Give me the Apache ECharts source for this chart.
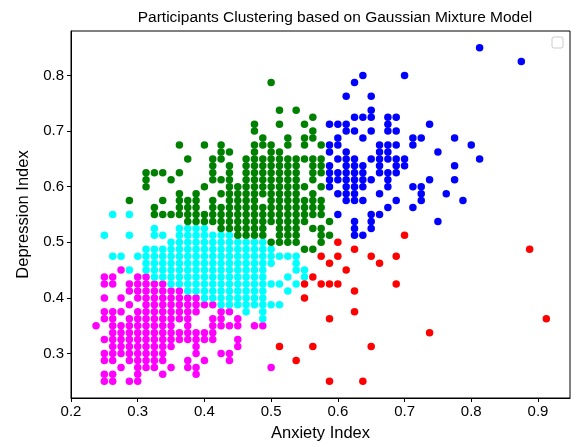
<!DOCTYPE html>
<html><head><meta charset="utf-8">
<script src="https://cdn.jsdelivr.net/npm/echarts@6/dist/echarts.min.js"></script>
<style>html,body{margin:0;padding:0;background:#fff}#c{width:577px;height:447px}</style>
</head><body><div id="c"></div>
<script>
const titleText = "Participants Clustering based on Gaussian Mixture Model";
const xName = "Anxiety Index";
const yName = "Depression Index";
const xTicks = [0.2,0.3,0.4,0.5,0.6,0.7,0.8,0.9];
const yTicks = [0.3,0.4,0.5,0.6,0.7,0.8];

// rows: [depression, [anxiety values...]]
const magentaRows = [
[0.45,[0.275]],
[0.4375,[0.25,0.2625,0.3,0.3125]],
[0.425,[0.25,0.2625,0.2875,0.3,0.3125,0.325,0.3375]],
[0.4125,[0.2875,0.3,0.3125,0.325,0.3375,0.35,0.3625]],
[0.4,[0.25,0.275,0.3,0.3125,0.325,0.3375,0.35,0.3625,0.375,0.3875]],
[0.3875,[0.2875,0.3125,0.325,0.3375,0.35,0.3625,0.375,0.3875,0.4,0.4125]],
[0.375,[0.25,0.2625,0.275,0.3,0.3125,0.325,0.3375,0.35,0.3625,0.375,0.3875,0.425,0.4375]],
[0.3625,[0.25,0.2625,0.2875,0.3,0.3125,0.325,0.3375,0.35,0.3625,0.375,0.4125,0.425,0.45]],
[0.35,[0.2375,0.2625,0.275,0.2875,0.3,0.3125,0.325,0.3375,0.35,0.375,0.4125,0.425,0.4375,0.45,0.475,0.4875]],
[0.3375,[0.2625,0.275,0.2875,0.3,0.3125,0.325,0.3375,0.35,0.3625,0.375,0.3875,0.4,0.4125]],
[0.325,[0.25,0.2625,0.275,0.2875,0.3,0.3125,0.325,0.3375,0.35,0.3625,0.375,0.3875,0.4,0.4125,0.45]],
[0.3125,[0.2625,0.275,0.2875,0.3,0.3125,0.325,0.3375,0.35,0.3875,0.45]],
[0.3,[0.25,0.2625,0.275,0.2875,0.3,0.3125,0.325,0.3375,0.3875,0.425,0.4375]],
[0.2875,[0.25,0.2625,0.2875,0.3,0.3125,0.325,0.3375,0.375,0.4,0.4375]],
[0.275,[0.275,0.3,0.3125,0.325,0.35,0.375,0.3875,0.5]],
[0.2625,[0.25,0.2625,0.3,0.3375,0.3875]],
[0.25,[0.25,0.2625,0.2875,0.3]]
];

const cyanRows = [
[0.55,[0.2625,0.2875]],
[0.525,[0.325,0.3625,0.375,0.3875,0.4]],
[0.5125,[0.25,0.2875,0.325,0.3375,0.3625,0.375,0.3875,0.4,0.4125,0.425,0.4375]],
[0.5,[0.35,0.3625,0.375,0.3875,0.4,0.4125,0.425,0.4375,0.45,0.4625,0.475,0.4875]],
[0.4875,[0.3125,0.325,0.3375,0.35,0.3625,0.375,0.3875,0.4,0.4125,0.425,0.4375,0.45,0.4625,0.475,0.4875,0.5]],
[0.475,[0.2625,0.275,0.3,0.3125,0.325,0.3375,0.35,0.3625,0.375,0.3875,0.4,0.4125,0.425,0.4375,0.45,0.4625,0.475,0.4875,0.5,0.5125,0.525,0.5375]],
[0.4625,[0.3125,0.325,0.3375,0.35,0.3625,0.375,0.3875,0.4,0.4125,0.425,0.4375,0.45,0.4625,0.475,0.4875,0.5,0.5375]],
[0.45,[0.2875,0.3125,0.325,0.3375,0.35,0.3625,0.375,0.3875,0.4,0.4125,0.425,0.4375,0.45,0.4625,0.475,0.4875,0.5375,0.55]],
[0.4375,[0.325,0.3375,0.35,0.3625,0.375,0.3875,0.4,0.4125,0.425,0.4375,0.45,0.4625,0.475,0.4875,0.525,0.55]],
[0.425,[0.35,0.3625,0.375,0.3875,0.4,0.4125,0.425,0.4375,0.45,0.4625,0.475,0.4875,0.5,0.5125,0.5375]],
[0.4125,[0.375,0.3875,0.4,0.4125,0.425,0.4375,0.45,0.4625,0.475,0.4875,0.525]],
[0.4,[0.4,0.4125,0.425,0.4375,0.45,0.4625,0.475,0.4875]],
[0.3875,[0.425,0.4375,0.45,0.4625,0.475,0.4875,0.5,0.5125]],
[0.375,[0.4625,0.4875]],
[0.3625,[0.4875]]
];

const greenRows = [
[0.7875,[0.5]],
[0.7375,[0.5125,0.5375]],
[0.725,[0.5625]],
[0.7125,[0.475,0.5125,0.55]],
[0.7,[0.475,0.5625]],
[0.6875,[0.4875,0.525,0.55,0.5625]],
[0.675,[0.3625,0.4,0.425,0.475,0.4875,0.5,0.525,0.55,0.575]],
[0.6625,[0.425,0.4375,0.475,0.5,0.5125]],
[0.65,[0.375,0.4125,0.425,0.4625,0.475,0.4875,0.5,0.5125,0.525,0.5375,0.55,0.5625,0.575]],
[0.6375,[0.4125,0.4375,0.4625,0.475,0.4875,0.5,0.5125,0.525,0.5375,0.5625,0.575]],
[0.625,[0.3125,0.325,0.3375,0.3625,0.4125,0.4375,0.4625,0.475,0.4875,0.5,0.5125,0.525,0.5375,0.5625,0.575]],
[0.6125,[0.3125,0.35,0.4125,0.425,0.4375,0.4625,0.475,0.4875,0.5,0.5125,0.525,0.5375,0.5625]],
[0.6,[0.3125,0.4,0.4375,0.45,0.4625,0.475,0.4875,0.5,0.5125,0.525,0.5375,0.55,0.575]],
[0.5875,[0.3625,0.3875,0.425,0.4375,0.45,0.4625,0.475,0.4875,0.5,0.5125,0.525,0.5375,0.5625]],
[0.575,[0.2875,0.3375,0.3625,0.375,0.3875,0.4125,0.4375,0.45,0.4625,0.475,0.5,0.5125,0.525,0.5375,0.55,0.5625,0.575]],
[0.5625,[0.325,0.3625,0.375,0.3875,0.4125,0.425,0.4375,0.45,0.4625,0.475,0.4875,0.5,0.5125,0.525,0.5375,0.55,0.5625,0.575]],
[0.55,[0.325,0.3375,0.35,0.3625,0.375,0.3875,0.4,0.4125,0.425,0.4375,0.45,0.4625,0.475,0.4875,0.5,0.5125,0.525,0.5375,0.55,0.5625,0.575]],
[0.5375,[0.375,0.3875,0.4,0.4125,0.425,0.4375,0.45,0.4625,0.475,0.4875,0.5,0.5125,0.525,0.5375,0.55,0.5875]],
[0.525,[0.425,0.4375,0.45,0.4625,0.475,0.4875,0.5125,0.525,0.5375,0.5625,0.575]],
[0.5125,[0.45,0.4625,0.475,0.4875,0.5125,0.525,0.5375,0.575,0.5875]],
[0.5,[0.5,0.5125,0.525,0.5375,0.575]],
[0.4875,[0.55,0.5625]]
];

const blueRows = [
[0.85,[0.8125]],
[0.825,[0.875]],
[0.8,[0.6375,0.7]],
[0.7875,[0.625]],
[0.7625,[0.6125,0.65]],
[0.7375,[0.65]],
[0.725,[0.625,0.6375,0.65,0.675,0.6875]],
[0.7125,[0.5875,0.6,0.6125,0.675,0.7375]],
[0.7,[0.6125,0.625,0.65,0.675,0.6875]],
[0.6875,[0.6,0.6375,0.7125,0.725,0.775]],
[0.675,[0.5875,0.6,0.6625,0.675,0.6875,0.7125,0.8]],
[0.6625,[0.5875,0.6125,0.6625,0.675,0.75]],
[0.65,[0.6,0.6125,0.625,0.65,0.6625,0.675,0.6875,0.7,0.8125]],
[0.6375,[0.5875,0.6125,0.625,0.6375,0.6625,0.6875,0.7,0.775]],
[0.625,[0.5875,0.6,0.6125,0.625,0.6375,0.6625,0.675,0.6875]],
[0.6125,[0.5875,0.6,0.6125,0.625,0.6375,0.65,0.675,0.7375,0.775]],
[0.6,[0.5875,0.6125,0.625,0.6375,0.675,0.7125,0.725]],
[0.5875,[0.6,0.6125,0.625,0.6625,0.725,0.7625]],
[0.575,[0.6125,0.625,0.6375,0.6875,0.725,0.7875]],
[0.5625,[0.675,0.7125]],
[0.55,[0.6,0.65,0.6625]],
[0.5375,[0.625,0.65,0.75]],
[0.525,[0.625,0.65]],
[0.5125,[0.625,0.6375]]
];

const redRows = [
[0.5125,[0.7]],
[0.5,[0.6]],
[0.4875,[0.625,0.8875]],
[0.475,[0.575,0.6,0.65,0.6875]],
[0.4625,[0.5875,0.6625]],
[0.45,[0.6125]],
[0.4375,[0.5625]],
[0.425,[0.55,0.575,0.5875,0.6,0.6875]],
[0.4125,[0.625]],
[0.4,[0.55]],
[0.375,[0.625]],
[0.3625,[0.5875,0.9125]],
[0.3375,[0.7375]],
[0.3125,[0.5125,0.5625,0.65]],
[0.2875,[0.5375]],
[0.25,[0.5875,0.6375]]
];

function toPoints(rows){
  const pts = [];
  rows.forEach(function(r){ r[1].forEach(function(x){ pts.push([x, r[0]]); }); });
  return pts;
}

const clusters = [
  {name:'c0', rows: magentaRows, color:'#ff00ff'},
  {name:'c1', rows: cyanRows, color:'#00ffff'},
  {name:'c2', rows: greenRows, color:'#008000'},
  {name:'c3', rows: blueRows, color:'#0000ff'},
  {name:'c4', rows: redRows, color:'#ff0000'}
];

const FONT = '"Liberation Sans", Arial, sans-serif';
const chart = echarts.init(document.getElementById('c'), null, {renderer:'canvas'});
chart.setOption({
  animation: false,
  backgroundColor: '#ffffff',
  title: {
    text: titleText, left: 330, top: 5, textAlign: 'center',
    textStyle: {fontFamily: FONT, fontSize: 15.5, fontWeight: 'normal', color: '#000'}
  },
  grid: {left: 71, right: 7, top: 31, bottom: 47, show: true, borderColor: '#000', borderWidth: 1, backgroundColor: 'transparent'},
  xAxis: {
    type: 'value', min: 0.2, max: 0.948,
    name: xName, nameLocation: 'middle', nameGap: 27,
    nameTextStyle: {fontFamily: FONT, fontSize: 16.5, color: '#000'},
    axisLine: {show: true, lineStyle: {color: '#000', width: 1}},
    axisTick: {show: true, inside: false, length: 4, lineStyle: {color: '#000'}, customValues: xTicks},
    axisLabel: {fontFamily: FONT, fontSize: 15, color: '#000', margin: 6, customValues: xTicks, formatter: function(v){return v.toFixed(1);}},
    splitLine: {show: false}
  },
  yAxis: {
    type: 'value', min: 0.22, max: 0.88,
    name: yName, nameLocation: 'middle', nameGap: 38,
    nameTextStyle: {fontFamily: FONT, fontSize: 16.5, color: '#000'},
    axisLine: {show: true, lineStyle: {color: '#000', width: 1}},
    axisTick: {show: true, inside: false, length: 4, lineStyle: {color: '#000'}, customValues: yTicks},
    axisLabel: {fontFamily: FONT, fontSize: 15, color: '#000', margin: 7, customValues: yTicks, formatter: function(v){return v.toFixed(1);}},
    splitLine: {show: false}
  },
  graphic: [{
    type: 'rect', shape: {x: 552, y: 37, width: 11, height: 11, r: 2},
    style: {fill: '#ffffff', stroke: '#cccccc', lineWidth: 1}, z: 100
  }],
  series: clusters.map(function(c){
    return {
      type: 'scatter', name: c.name, data: toPoints(c.rows),
      symbol: 'circle', symbolSize: 7.5,
      itemStyle: {color: c.color, opacity: 1},
      emphasis: {disabled: true}, silent: true
    };
  })
});
</script></body></html>
